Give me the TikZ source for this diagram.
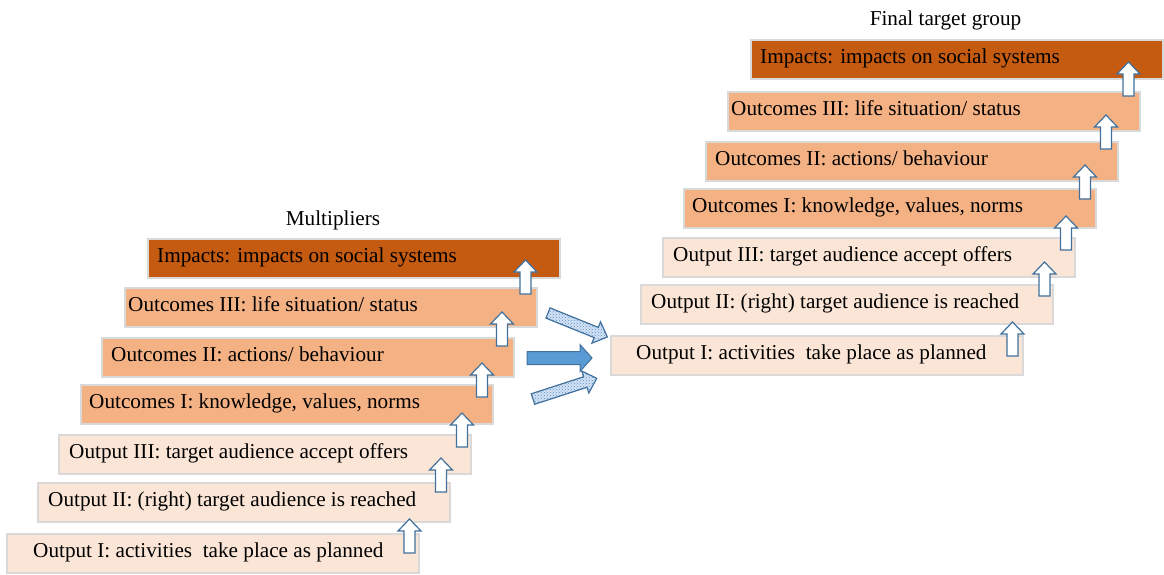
\documentclass[tikz,border=0pt]{standalone}
\usepackage{fontspec}
\setmainfont{Liberation Serif}
\usetikzlibrary{patterns,calc}

\definecolor{impactfill}{HTML}{C55A11}
\definecolor{outcomefill}{HTML}{F4B183}
\definecolor{outputfill}{HTML}{FBE5D6}
\definecolor{boxframe}{HTML}{D9D9D9}
\definecolor{arrowline}{HTML}{41719C}
\definecolor{arrowblue}{HTML}{5B9BD5}
\definecolor{hatchback}{HTML}{D3E3F4}
\definecolor{hatchblue}{HTML}{5B8FCB}

\tikzset{
  stage/.style={draw=boxframe, line width=1.2pt, minimum width=412pt,
    minimum height=39pt, inner sep=0pt, outer sep=0pt, anchor=north west},
  impactbox/.style={stage, fill=impactfill},
  outcomebox/.style={stage, fill=outcomefill},
  outputbox/.style={stage, fill=outputfill},
  stagetext/.style={anchor=base west, inner sep=0pt,
    font=\fontsize{21.2}{24}\selectfont},
  headline/.style={anchor=base, inner sep=0pt,
    font=\fontsize{21.2}{24}\selectfont},
  hollowarrow/.style={draw=arrowline, fill=white, line width=1.2pt, line join=miter},
  solidarrow/.style={draw=arrowline, fill=arrowblue, line width=1pt},
  hatcharrow/.style={draw=arrowline, line width=1.2pt,
    preaction={fill=hatchback}, pattern=crosshatch dots, pattern color=hatchblue},
  pics/uparr/.style={code={
    \draw[hollowarrow] (-5.5,0) -- (5.5,0) -- (5.5,-22) -- (11.5,-22)
      -- (0,-34) -- (-11.5,-22) -- (-5.5,-22) -- cycle;}},
}

% block arrow pointing along +x from its tail centre
\newcommand{\blockarrow}[5]{% style, length, shaft half width, head half width, head length
  \draw[#1] (0,-#3) -- ({#2-#5},-#3) -- ({#2-#5},-#4) -- (#2,0)
    -- ({#2-#5},#4) -- ({#2-#5},#3) -- (0,#3) -- cycle;}

\begin{document}
\begin{tikzpicture}[x=1pt, y=-1pt]
\useasboundingbox (0,0) rectangle (1164,574);

% ---------- Multipliers ----------
\node[headline] (mtitle) at (333,225) {Multipliers};
\node[outputbox]  (m1) at (7,534)   {};
\node[outputbox]  (m2) at (38,483)  {};
\node[outputbox]  (m3) at (59,435)  {};
\node[outcomebox] (m4) at (81,385)  {};
\node[outcomebox] (m5) at (102,338) {};
\node[outcomebox] (m6) at (125,288) {};
\node[impactbox]  (m7) at (148,239) {};

\node[stagetext] (m1t) at ([shift={(26,-15.5)}]m1.south west) {Output I: activities\ \ take place as planned};
\node[stagetext] (m2t) at ([shift={(10,-15.5)}]m2.south west) {Output II: (right) target audience is reached};
\node[stagetext] (m3t) at ([shift={(10,-15.5)}]m3.south west) {Output III: target audience accept offers};
\node[stagetext] (m4t) at ([shift={(8,-15.5)}]m4.south west) {Outcomes I: knowledge, values, norms};
\node[stagetext] (m5t) at ([shift={(9,-15.5)}]m5.south west) {Outcomes II: actions/ behaviour};
\node[stagetext] (m6t) at ([shift={(3,-15.5)}]m6.south west) {Outcomes III: life situation/ status};
\node[stagetext] (m7t) at ([shift={(9,-15.5)}]m7.south west) {Impacts: impacts on social systems};

\pic at ([shift={(-9.5,19)}]m1.north east) {uparr};
\pic at ([shift={(-9,9)}]m2.north east) {uparr};
\pic at ([shift={(-9,12)}]m3.north east) {uparr};
\pic at ([shift={(-11,12)}]m4.north east) {uparr};
\pic at ([shift={(-12,8)}]m5.north east) {uparr};
\pic at ([shift={(-11.5,6)}]m6.north east) {uparr};

% ---------- Final target group ----------
\node[headline] (ftitle) at (945.5,25) {Final target group};
\node[outputbox]  (f1) at (611,336)  {};
\node[outputbox]  (f2) at (641,285)  {};
\node[outputbox]  (f3) at (663,238)  {};
\node[outcomebox] (f4) at (684,189)  {};
\node[outcomebox] (f5) at (706,142)  {};
\node[outcomebox] (f6) at (728,92)   {};
\node[impactbox]  (f7) at (751,40)   {};

\node[stagetext] (f1t) at ([shift={(25,-15.5)}]f1.south west) {Output I: activities\ \ take place as planned};
\node[stagetext] (f2t) at ([shift={(10,-15.5)}]f2.south west) {Output II: (right) target audience is reached};
\node[stagetext] (f3t) at ([shift={(10,-15.5)}]f3.south west) {Output III: target audience accept offers};
\node[stagetext] (f4t) at ([shift={(8,-15.5)}]f4.south west) {Outcomes I: knowledge, values, norms};
\node[stagetext] (f5t) at ([shift={(9,-15.5)}]f5.south west) {Outcomes II: actions/ behaviour};
\node[stagetext] (f6t) at ([shift={(3,-15.5)}]f6.south west) {Outcomes III: life situation/ status};
\node[stagetext] (f7t) at ([shift={(9,-15.5)}]f7.south west) {Impacts: impacts on social systems};

\pic at ([shift={(-10.5,20)}]f1.north east) {uparr};
\pic at ([shift={(-8.5,11)}]f2.north east) {uparr};
\pic at ([shift={(-9,12)}]f3.north east) {uparr};
\pic at ([shift={(-11,10)}]f4.north east) {uparr};
\pic at ([shift={(-12,7)}]f5.north east) {uparr};
\pic at ([shift={(-11.5,4)}]f6.north east) {uparr};

% ---------- transfer arrows between the two staircases ----------
\coordinate (upperTail) at (548,313);
\coordinate (midTail)   at (527,358);
\coordinate (lowerTail) at (533,399);
\begin{scope}[shift={(upperTail)}, rotate=-22]
  \blockarrow{hatcharrow}{64}{5.5}{11.5}{12}
\end{scope}
\begin{scope}[shift={(midTail)}]
  \blockarrow{solidarrow}{65}{6.5}{13.5}{12}
\end{scope}
\begin{scope}[shift={(lowerTail)}, rotate=18]
  \blockarrow{hatcharrow}{67}{5.5}{11.5}{12}
\end{scope}
\end{tikzpicture}
\end{document}
